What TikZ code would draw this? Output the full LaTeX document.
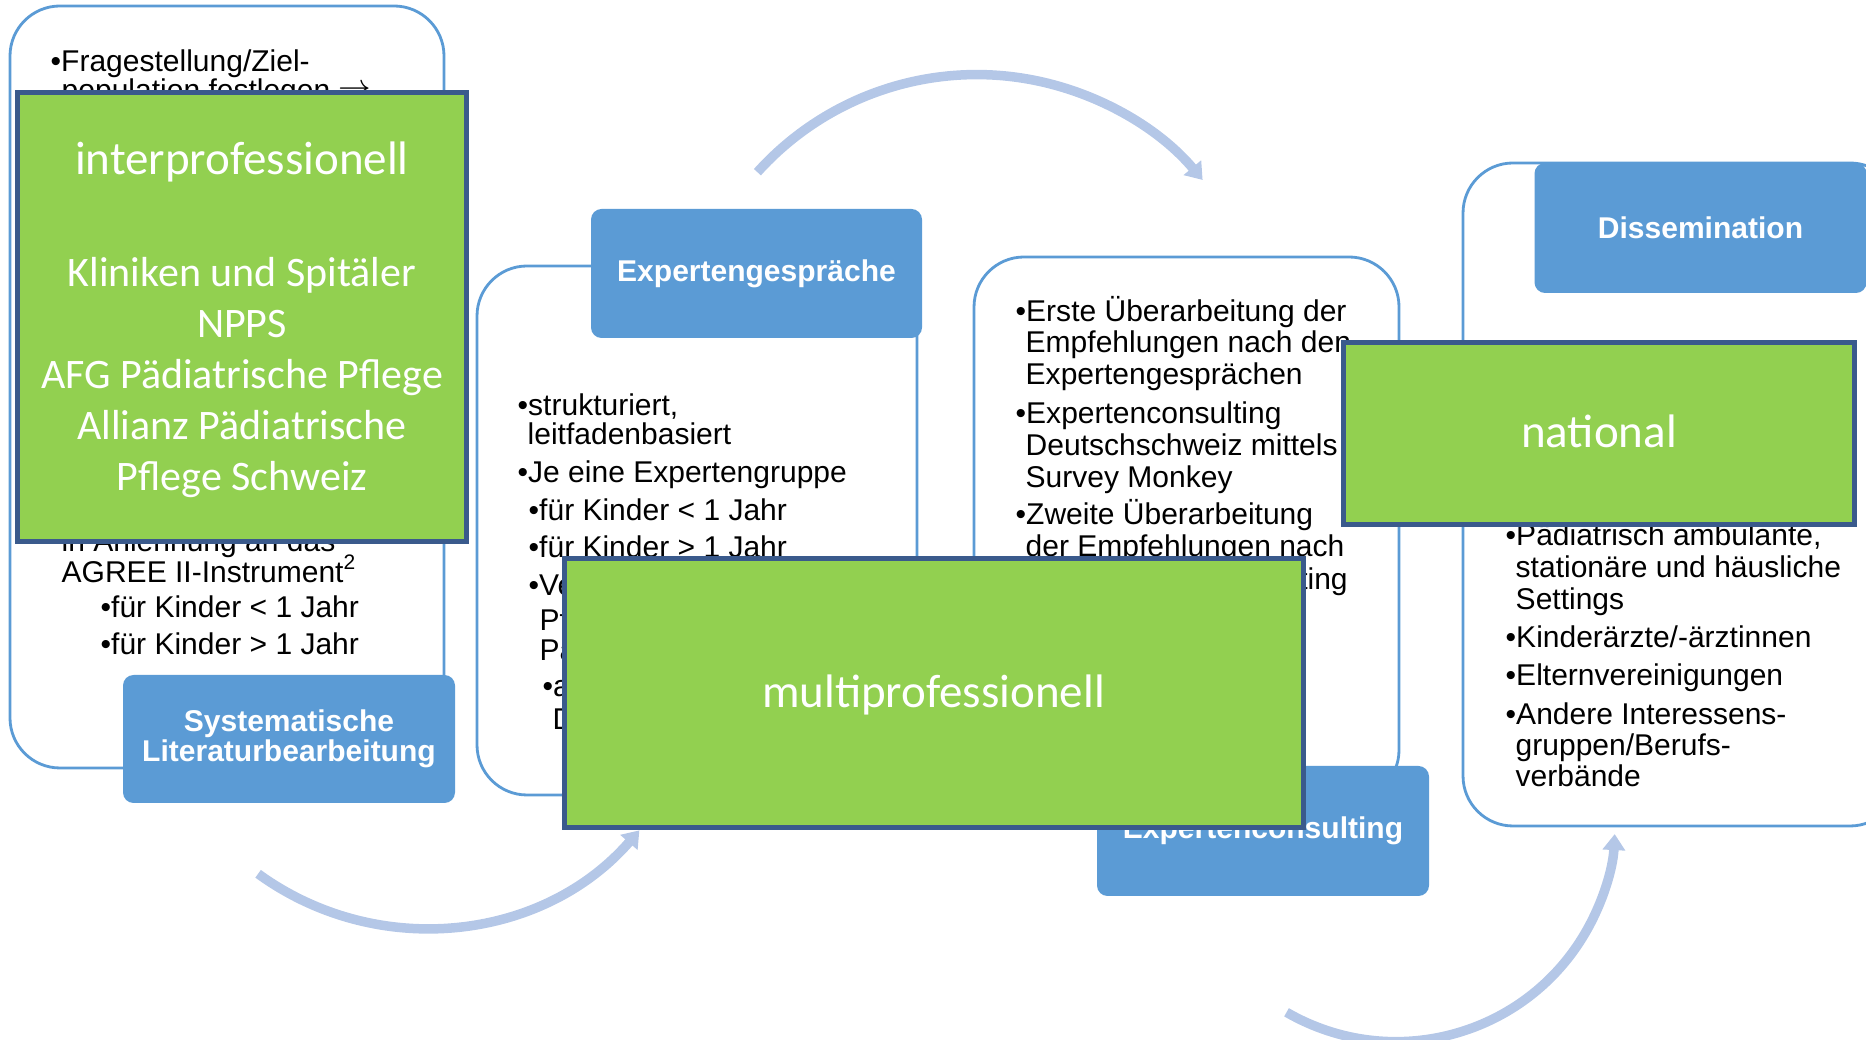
\documentclass[tikz,border=0pt]{standalone}
\usepackage{fontspec}
\setmainfont{Liberation Sans}
\newfontfamily\carlito{Carlito}
\usetikzlibrary{arrows.meta}

\definecolor{lblue}{RGB}{91,155,213}
\definecolor{abl}{RGB}{180,199,231}
\definecolor{grn}{RGB}{146,208,80}
\definecolor{gedge}{RGB}{58,90,140}

\begin{document}
\begin{tikzpicture}[
    wbox/.style={draw=lblue, line width=0.8pt, fill=white, rounded corners=0.5cm, inner sep=0pt},
    lbl/.style={fill=lblue, rounded corners=3pt, text=white, align=center, inner sep=0pt, font=\bfseries\fontsize{8.54}{8.6}\selectfont},
    txt/.style={anchor=base west, inner sep=0pt, font=\fontsize{8.54}{10}\selectfont},
    gbox/.style={draw=gedge, line width=0.05cm, fill=grn, inner sep=0pt},
    gtitle/.style={anchor=base, inner sep=0pt, text=white, font=\carlito\fontsize{13.37}{16}\selectfont},
    glist/.style={anchor=base, inner sep=0pt, text=white, font=\carlito\fontsize{11.95}{14}\selectfont},
    cyc/.style={draw=abl, line width=0.095cm, -{Triangle[width=0.22cm, length=0.16cm]}}
]
    \useasboundingbox (0,0) rectangle (18.66,10.40);
    \clip (0,0) rectangle (18.66,10.40);

    % Box 1 - Literatur
    \node[wbox, minimum width=4.34cm, minimum height=7.62cm] (litBox) at (2.27,6.53) {};
    \foreach \x/\y/\t [count=\i] in {0.50/9.68/{•Fragestellung/Ziel-}, 0.61/9.39/{population festlegen \raisebox{0.04cm}{$\rightarrow$}},
        0.61/4.88/{in Anlehnung an das}, 0.61/4.57/{AGREE II-Instrument\textsuperscript{2}},
        1.00/4.22/{•für Kinder < 1 Jahr}, 1.00/3.85/{•für Kinder > 1 Jahr}}
        \node[txt] (lit\i) at (\x,\y) {\t};

    % Box 2 - Gespraeche
    \node[wbox, minimum width=4.40cm, minimum height=5.29cm] (gesBox) at (6.97,5.095) {};
    \foreach \x/\y/\t [count=\i] in {5.17/6.24/{•strukturiert,}, 5.27/5.95/{leitfadenbasiert},
        5.17/5.57/{•Je eine Expertengruppe}, 5.28/5.19/{•für Kinder < 1 Jahr},
        5.28/4.82/{•für Kinder > 1 Jahr}, 5.28/4.44/{•Vertreter/-innen aus},
        5.39/4.09/{Pflege und}, 5.39/3.79/{Pädiatrie}, 5.42/3.43/{•aus der}, 5.52/3.10/{Deutschschweiz}}
        \node[txt] (ges\i) at (\x,\y) {\t};

    % Box 3 - Consulting
    \node[wbox, minimum width=4.25cm, minimum height=5.43cm] (konBox) at (11.865,5.115) {};
    \foreach \x/\y/\t [count=\i] in {10.15/7.18/{•Erste Überarbeitung der}, 10.25/6.87/{Empfehlungen nach den},
        10.25/6.55/{Expertengesprächen}, 10.15/6.16/{•Expertenconsulting},
        10.25/5.84/{Deutschschweiz mittels}, 10.25/5.52/{Survey Monkey},
        10.15/5.15/{•Zweite Überarbeitung}, 10.25/4.83/{der Empfehlungen nach}, 10.25/4.50/{dem Expertenconsulting}}
        \node[txt] (kon\i) at (\x,\y) {\t};

    % Box 4 - Dissemination
    \node[wbox, minimum width=4.37cm, minimum height=6.63cm] (disBox) at (16.815,5.455) {};
    \foreach \x/\y/\t [count=\i] in {15.05/4.94/{•Pädiatrisch ambulante,}, 15.15/4.62/{stationäre und häusliche},
        15.15/4.30/{Settings}, 15.05/3.92/{•Kinderärzte/-ärztinnen}, 15.05/3.54/{•Elternvereinigungen},
        15.05/3.15/{•Andere Interessens-}, 15.15/2.84/{gruppen/Berufs-}, 15.15/2.53/{verbände}}
        \node[txt] (dis\i) at (\x,\y) {\t};

    % Labels
    \node[lbl, minimum width=3.32cm, minimum height=1.28cm] (litLbl) at (2.89,3.01) {Systematische\\Literaturbearbeitung};
    \node[lbl, minimum width=3.31cm, minimum height=1.29cm] (gesLbl) at (7.565,7.665) {Expertengespräche};
    \node[lbl, minimum width=3.32cm, minimum height=1.30cm] (konLbl) at (12.63,2.09) {Expertenconsulting};
    \node[lbl, minimum width=3.32cm, minimum height=1.30cm] (disLbl) at (17.005,8.12) {Dissemination};

    % Cycle arrows
    \coordinate (aS) at (7.574,8.678);
    \draw[cyc] (aS) arc[start angle=138, end angle=40, radius=2.95];
    \coordinate (bS) at (2.581,1.662);
    \draw[cyc] (bS) arc[start angle=234, end angle=319, radius=2.84];
    \coordinate (cS) at (12.865,0.277);
    \draw[cyc] (cS) arc[start angle=240, end angle=357, radius=2.19];

    % Green boxes
    \node[gbox, minimum width=4.485cm, minimum height=4.49cm] (interBox) at (2.4175,7.225) {};
    \node[gtitle] (interT) at (2.42,8.65) {interprofessionell};
    \foreach \t [count=\i from 0] in {Kliniken und Spitäler, NPPS, AFG Pädiatrische Pflege, Allianz Pädiatrische, Pflege Schweiz}
        \node[glist] (inter\i) at (2.42,7.53-0.508*\i) {\t};

    \node[gbox, minimum width=7.39cm, minimum height=2.69cm] (multiBox) at (9.335,3.465) {};
    \node[gtitle] (multiT) at (9.335,3.32) {multiprofessionell};

    \node[gbox, minimum width=5.115cm, minimum height=1.815cm] (natBox) at (15.9875,6.0625) {};
    \node[gtitle] (natT) at (15.99,5.92) {national};

\end{tikzpicture}
\end{document}
